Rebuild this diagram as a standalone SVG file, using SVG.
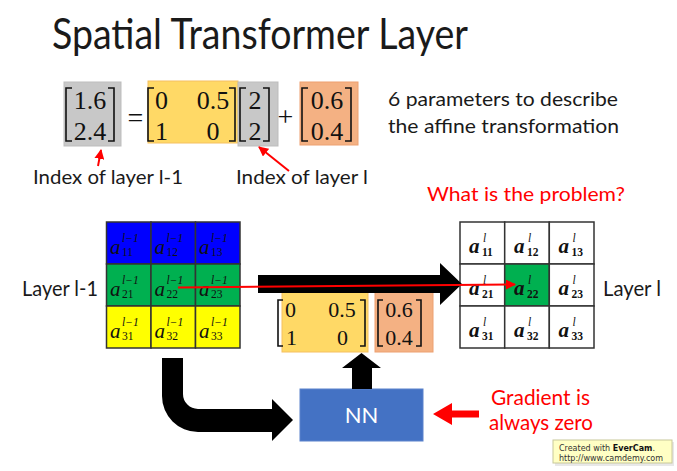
<svg xmlns="http://www.w3.org/2000/svg" width="677" height="471" viewBox="0 0 677 471">
<defs>
<style>
.t{font-family:Lato,"Open Sans","Liberation Sans",sans-serif;fill:#1a1a1a}
.r{fill:#ff0000}
.num{font-family:"Liberation Serif","DejaVu Serif",serif;fill:#111}
.m{font-family:"Liberation Serif","DejaVu Serif",serif;font-style:italic;fill:#111}
.mb{font-family:"Liberation Serif","DejaVu Serif",serif;font-style:italic;font-weight:bold;fill:#111}
.br{fill:none;stroke:#111;stroke-width:1.6}
.cell{stroke:#333;stroke-width:1.5}
.wc{fill:#fff;stroke:#333;stroke-width:1.5}
.s{font-size:11.5px}
</style>
<marker id="rh" viewBox="0 0 10 10" refX="9" refY="5" markerWidth="5" markerHeight="5" orient="auto" markerUnits="strokeWidth">
<path d="M0,0 L10,5 L0,10 Z" fill="#ff0000"/>
</marker>
</defs>
<rect width="677" height="471" fill="#fff"/>

<g id="title"><text class="t" x="52" y="49" font-size="42" textLength="416" lengthAdjust="spacingAndGlyphs">Spatial Transformer Layer</text></g>

<g id="equation">
<rect x="64" y="82" width="57" height="64" fill="#c8c8c8" stroke="#bdbdbd"/>
<path class="br" d="M72,88 L66,88 L66,141 L72,141"/>
<path class="br" d="M108,88 L114,88 L114,141 L108,141"/>
<text class="num" x="90" y="109" font-size="26" text-anchor="middle">1.6</text>
<text class="num" x="90" y="140" font-size="26" text-anchor="middle">2.4</text>
<text class="num" x="135.5" y="127" font-size="28" text-anchor="middle">=</text>
<rect x="148" y="81" width="90" height="62" fill="#ffd966" stroke="#f5c060"/>
<path class="br" d="M154,88 L148,88 L148,141 L154,141"/>
<path class="br" d="M229,88 L235,88 L235,141 L229,141"/>
<text class="num" x="155" y="109" font-size="26">0</text>
<text class="num" x="155" y="140" font-size="26">1</text>
<text class="num" x="213" y="109" font-size="26" text-anchor="middle">0.5</text>
<text class="num" x="213" y="140" font-size="26" text-anchor="middle">0</text>
<rect x="238" y="82" width="40" height="64" fill="#c8c8c8" stroke="#bdbdbd"/>
<path class="br" d="M246,88 L240,88 L240,141 L246,141"/>
<path class="br" d="M263,88 L269,88 L269,141 L263,141"/>
<text class="num" x="255" y="109" font-size="26" text-anchor="middle">2</text>
<text class="num" x="255" y="140" font-size="26" text-anchor="middle">2</text>
<text class="num" x="285.5" y="126" font-size="28" text-anchor="middle">+</text>
<rect x="300" y="82" width="58" height="63" fill="#f4b183" stroke="#eda070"/>
<path class="br" d="M308,88 L302,88 L302,141 L308,141"/>
<path class="br" d="M345,88 L351,88 L351,141 L345,141"/>
<text class="num" x="327" y="109" font-size="26" text-anchor="middle">0.6</text>
<text class="num" x="327" y="140" font-size="26" text-anchor="middle">0.4</text>
</g>

<g id="labels-top">
<text class="t" x="33" y="184" font-size="20" textLength="150" lengthAdjust="spacingAndGlyphs">Index of layer l-1</text>
<text class="t" x="236" y="184" font-size="20" textLength="132" lengthAdjust="spacingAndGlyphs">Index of layer l</text>
<text class="t" x="388" y="106" font-size="20" textLength="230" lengthAdjust="spacingAndGlyphs">6 parameters to describe</text>
<text class="t" x="388" y="133" font-size="20" textLength="231" lengthAdjust="spacingAndGlyphs">the affine transformation</text>
<text class="t r" x="427" y="201" font-size="20" textLength="198" lengthAdjust="spacingAndGlyphs">What is the problem?</text>
<text class="t" x="22" y="296" font-size="21" textLength="76" lengthAdjust="spacingAndGlyphs">Layer l-1</text>
<text class="t" x="603" y="296" font-size="21" textLength="58" lengthAdjust="spacingAndGlyphs">Layer l</text>
</g>

<g id="layer-l-1">
<rect class="cell" x="106.5" y="222" width="44.5" height="42" fill="#0000ff"/>
<rect class="cell" x="151" y="222" width="44.5" height="42" fill="#0000ff"/>
<rect class="cell" x="195.5" y="222" width="44.5" height="42" fill="#0000ff"/>
<rect class="cell" x="106.5" y="264" width="44.5" height="42" fill="#00b050"/>
<rect class="cell" x="151" y="264" width="44.5" height="42" fill="#00b050"/>
<rect class="cell" x="195.5" y="264" width="44.5" height="42" fill="#00b050"/>
<rect class="cell" x="106.5" y="306" width="44.5" height="42" fill="#ffff00"/>
<rect class="cell" x="151" y="306" width="44.5" height="42" fill="#ffff00"/>
<rect class="cell" x="195.5" y="306" width="44.5" height="42" fill="#ffff00"/>
<g font-size="21">
<text class="m" x="110" y="254">a</text><text class="m" x="154.5" y="254">a</text><text class="m" x="199" y="254">a</text>
<text class="m" x="110" y="296">a</text><text class="m" x="154.5" y="296">a</text><text class="m" x="199" y="296">a</text>
<text class="m" x="110" y="338">a</text><text class="m" x="154.5" y="338">a</text><text class="m" x="199" y="338">a</text>
</g>
<g>
<text class="m s" x="122" y="242">l−1</text><text class="m s" x="166.5" y="242">l−1</text><text class="m s" x="211" y="242">l−1</text>
<text class="m s" x="122" y="284">l−1</text><text class="m s" x="166.5" y="284">l−1</text><text class="m s" x="211" y="284">l−1</text>
<text class="m s" x="122" y="326">l−1</text><text class="m s" x="166.5" y="326">l−1</text><text class="m s" x="211" y="326">l−1</text>
<text class="num s" x="122" y="256">11</text><text class="num s" x="166.5" y="256">12</text><text class="num s" x="211" y="256">13</text>
<text class="num s" x="122" y="298">21</text><text class="num s" x="166.5" y="298">22</text><text class="num s" x="211" y="298">23</text>
<text class="num s" x="122" y="340">31</text><text class="num s" x="166.5" y="340">32</text><text class="num s" x="211" y="340">33</text>
</g>
</g>

<g id="layer-l">
<rect class="wc" x="460" y="222" width="44.7" height="42"/>
<rect class="wc" x="504.7" y="222" width="44.6" height="42"/>
<rect class="wc" x="549.3" y="222" width="44.7" height="42"/>
<rect class="wc" x="460" y="264" width="44.7" height="42"/>
<rect class="cell" x="504.7" y="264" width="44.6" height="42" fill="#00b050"/>
<rect class="wc" x="549.3" y="264" width="44.7" height="42"/>
<rect class="wc" x="460" y="306" width="44.7" height="42"/>
<rect class="wc" x="504.7" y="306" width="44.6" height="42"/>
<rect class="wc" x="549.3" y="306" width="44.7" height="42"/>
<g font-size="21">
<text class="mb" x="469" y="253">a</text><text class="mb" x="514" y="253">a</text><text class="mb" x="558.5" y="253">a</text>
<text class="mb" x="469" y="295">a</text><text class="mb" x="514" y="295">a</text><text class="mb" x="558.5" y="295">a</text>
<text class="mb" x="469" y="337">a</text><text class="mb" x="514" y="337">a</text><text class="mb" x="558.5" y="337">a</text>
</g>
<g>
<text class="m s" x="483" y="242">l</text><text class="m s" x="528" y="242">l</text><text class="m s" x="572.5" y="242">l</text>
<text class="m s" x="483" y="284">l</text><text class="m s" x="528" y="284">l</text><text class="m s" x="572.5" y="284">l</text>
<text class="m s" x="483" y="326">l</text><text class="m s" x="528" y="326">l</text><text class="m s" x="572.5" y="326">l</text>
<text class="num s" x="482" y="256" font-weight="bold">11</text><text class="num s" x="527" y="256" font-weight="bold">12</text><text class="num s" x="571.5" y="256" font-weight="bold">13</text>
<text class="num s" x="482" y="298" font-weight="bold">21</text><text class="num s" x="527" y="298" font-weight="bold">22</text><text class="num s" x="571.5" y="298" font-weight="bold">23</text>
<text class="num s" x="482" y="340" font-weight="bold">31</text><text class="num s" x="527" y="340" font-weight="bold">32</text><text class="num s" x="571.5" y="340" font-weight="bold">33</text>
</g>
</g>

<g id="params">
<rect x="282" y="291" width="86" height="61" fill="#ffd966" stroke="#f5c060"/>
<rect x="375" y="291" width="58" height="61" fill="#f4b183" stroke="#eda070"/>
<path class="br" d="M283,300 L278,300 L278,346 L283,346"/>
<path class="br" d="M360,300 L365,300 L365,346 L360,346"/>
<text class="num" x="285" y="317" font-size="22">0</text>
<text class="num" x="286" y="345" font-size="22">1</text>
<text class="num" x="342" y="317" font-size="22" text-anchor="middle">0.5</text>
<text class="num" x="342.5" y="345" font-size="22" text-anchor="middle">0</text>
<path class="br" d="M383,300 L378,300 L378,346 L383,346"/>
<path class="br" d="M416,300 L421,300 L421,346 L416,346"/>
<text class="num" x="399" y="317" font-size="22" text-anchor="middle">0.6</text>
<text class="num" x="399" y="345" font-size="22" text-anchor="middle">0.4</text>
</g>

<g id="NN">
<rect x="300" y="389" width="123" height="52" fill="#4472c4" stroke="#5a82cc"/>
<text x="361.5" y="423" font-size="22" text-anchor="middle" fill="#fff" font-family="Lato,'Open Sans','Liberation Sans',sans-serif">NN</text>
</g>

<g id="connectors">
<path d="M258,275 L440,275 L440,263 L462,284 L440,305 L440,293 L258,293 Z" fill="#000"/>
<path d="M352,389 L352,368 L342,368 L361.5,353 L381,368 L372,368 L372,389 Z" fill="#000"/>
<path d="M162,358 L162,396 A36,36 0 0 0 198,432 L272,432 L272,441 L293,420 L272,399 L272,409 L198,409 A15,15 0 0 1 183,394 L183,358 Z" fill="#000"/>
<line x1="178" y1="287.5" x2="515" y2="284.5" stroke="#ff0000" stroke-width="2" marker-end="url(#rh)"/>
<line x1="98" y1="166" x2="101" y2="150" stroke="#ff0000" stroke-width="2" marker-end="url(#rh)"/>
<line x1="289" y1="171" x2="259" y2="147" stroke="#ff0000" stroke-width="2" marker-end="url(#rh)"/>
<path d="M479,410.5 L452,410.5 L452,403 L433,414 L452,425 L452,417.5 L479,417.5 Z" fill="#ff0000"/>
</g>

<g id="gradient-note">
<text class="t r" x="491" y="405" font-size="21" textLength="99" lengthAdjust="spacingAndGlyphs">Gradient is</text>
<text class="t r" x="489" y="430" font-size="21" textLength="104" lengthAdjust="spacingAndGlyphs">always zero</text>
</g>

<g id="watermark">
<rect x="555" y="442" width="119" height="24" fill="#d8d8d8" opacity="0.6"/>
<rect x="553" y="440" width="119" height="23" fill="#ffffc4" stroke="#c8c89a"/>
<text x="559" y="451" font-size="8" font-family="'DejaVu Sans','Liberation Sans',sans-serif" fill="#333">Created with <tspan font-weight="bold" fill="#111">EverCam</tspan>.</text>
<text x="559" y="461" font-size="8" font-family="'DejaVu Sans','Liberation Sans',sans-serif" fill="#333">http://www.camdemy.com</text>
</g>
</svg>
